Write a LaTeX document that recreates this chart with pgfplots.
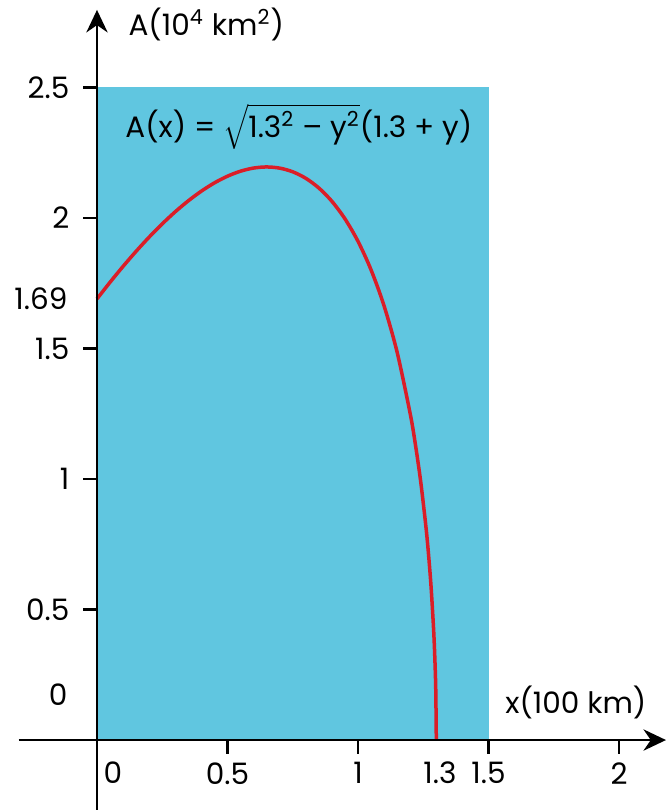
\documentclass[border=0pt]{standalone}
\usepackage{fontspec}
\setmainfont{Poppins}
\usepackage{pgfplots}
\pgfplotsset{compat=1.18}
\usetikzlibrary{arrows.meta}
\definecolor{bgblue}{RGB}{96,198,224}
\definecolor{curvered}{RGB}{218,30,40}
\begin{document}
\begin{tikzpicture}
\begin{axis}[
  scale only axis,
  width=258.9pt, height=320.0pt,
  xmin=-0.30, xmax=2.18,
  ymin=-0.268, ymax=2.797,
  axis lines=middle,
  axis line style={line width=1.1pt, -{Stealth[length=9pt,width=8.5pt]}},
  axis on top,
  tick align=outside,
  major tick length=5.4pt,
  tick style={black, line width=1pt},
  font=\fontsize{11.8}{14}\selectfont,
  xtick={0.5,1,1.5,2},
  xticklabels={0.5,1,1.5,2},
  ytick={0.5,1,1.5,2,2.5},
  yticklabels={0.5,1,1.5,2,2.5},
  extra x ticks={0.061,1.314},
  extra x tick labels={0,1.3},
  extra x tick style={major tick length=0pt, xticklabel style={yshift=-5pt}},
  extra y ticks={0.172,1.69},
  extra y tick labels={0,1.69},
  extra y tick style={major tick length=0pt, yticklabel style={xshift=-6.2pt}},
  xticklabel style={anchor=north},
  yticklabel style={anchor=east, xshift=-2.1pt},
  xlabel={x(100 km)},
  ylabel={A(10\textsuperscript{4} km\textsuperscript{2})},
  xlabel style={at={(axis cs:1.563,0.103)}, anchor=base west, inner sep=0pt},
  ylabel style={at={(axis cs:0.119,2.70)}, anchor=base west, inner sep=0pt},
  clip=false,
]
\addplot[fill=bgblue, draw=none] coordinates {(0,0) (0,2.5) (1.5,2.5) (1.5,0)} -- cycle;
\addplot[curvered, line width=1.4pt, smooth] coordinates {
(0,1.69) (0.05,1.7537) (0.1,1.8146) (0.15,1.8724) (0.2,1.9268) (0.25,1.9774)
(0.3,2.0239) (0.35,2.0658) (0.4,2.1028) (0.45,2.1344) (0.5,2.16) (0.55,2.1792)
(0.6,2.1912) (0.65,2.1954) (0.7,2.1909) (0.75,2.1768) (0.8,2.1519) (0.85,2.1148)
(0.9,2.0638) (0.95,1.9967) (1.0,1.9105) (1.05,1.8012) (1.1,1.6628) (1.15,1.4852)
(1.2,1.25) (1.22,1.1315) (1.24,0.9916) (1.26,0.8192) (1.27,0.7136) (1.28,0.5861)
(1.29,0.4168) (1.295,0.2956) (1.298,0.1873) (1.3,0)
};
\node[anchor=west, inner sep=0pt] at (axis cs:0.107,2.35)
  {A(x) = $\sqrt{\mbox{1.3\textsuperscript{2} – y\textsuperscript{2}}}$(1.3 + y)};
\coordinate (bbl) at (axis cs:-0.3716,-0.268);
\coordinate (btr) at (axis cs:2.18,2.835);
\end{axis}
\pgfresetboundingbox
\useasboundingbox (bbl) rectangle (btr);
\end{tikzpicture}
\end{document}
